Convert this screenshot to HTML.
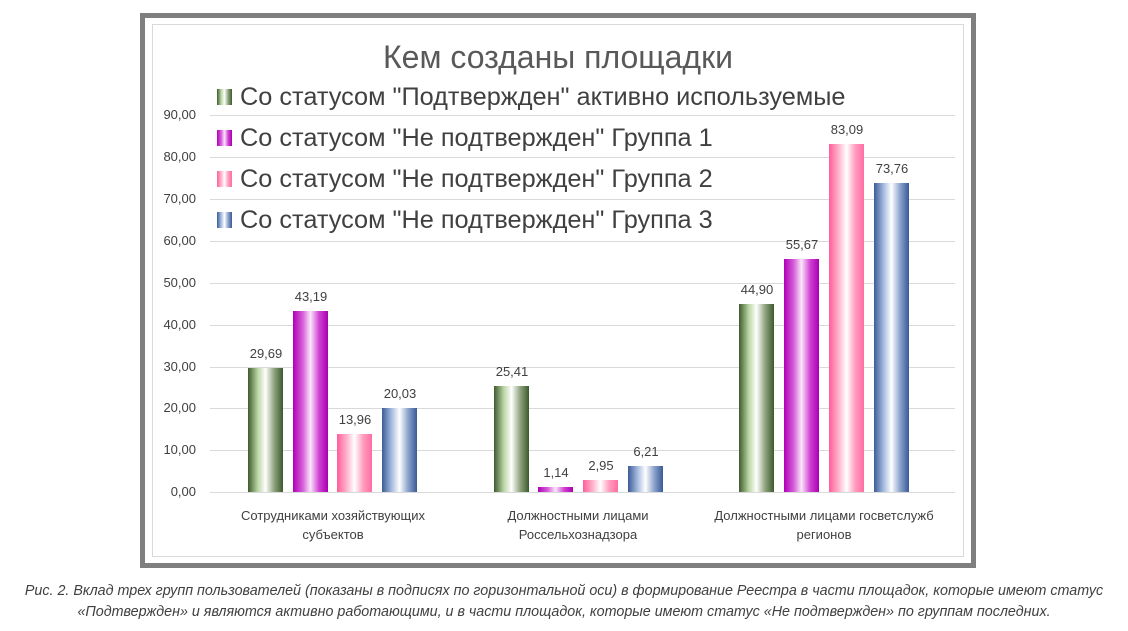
<!DOCTYPE html>
<html><head><meta charset="utf-8"><style>
body{margin:0;width:1128px;height:631px;background:#fff;position:relative;font-family:"Liberation Sans","DejaVu Sans",sans-serif;overflow:hidden}
.a{position:absolute}
.g{position:absolute;left:210px;width:745px;height:1px;background:#d9d9d9}
.yl{position:absolute;left:150px;width:46px;text-align:right;font-size:13px;color:#404040}
.b{position:absolute;width:35px}
.v{position:absolute;width:60px;text-align:center;font-size:13px;color:#404040}
.G{background:linear-gradient(90deg,#3f5a2e,#b9d6a3 28%,#fff 50%,#8ea37d 75%,#3c5a2c)}
.M{background:linear-gradient(90deg,#b000b8,#d65fd9 28%,#fbe6fb 50%,#d040d2 75%,#a800b0)}
.P{background:linear-gradient(90deg,#ff5d9a,#ffb3cc 28%,#fff 50%,#ff9cbd 75%,#ff6da2)}
.B{background:linear-gradient(90deg,#3c5c98,#a8bde0 28%,#fff 50%,#8aa2cc 75%,#3a5a96)}
.lg{position:absolute;left:217px;width:15px;height:16px}
.lt{position:absolute;left:240px;font-size:25.3px;color:#404040;line-height:28px}
.xl{position:absolute;text-align:center;font-size:13px;color:#404040;line-height:19px;width:260px}
</style></head><body>
<div class="a" style="left:140px;top:13px;width:826px;height:545px;border:5px solid #7f7f7f"></div>
<div class="a" style="left:152px;top:24px;width:810px;height:531px;border:1px solid #d9d9d9"></div>
<div class="a" style="left:150px;top:39px;width:816px;text-align:center;font-size:32px;color:#595959">Кем созданы площадки</div>

<div class="g" style="top:115px"></div><div class="g" style="top:157px"></div><div class="g" style="top:199px"></div>
<div class="g" style="top:241px"></div><div class="g" style="top:283px"></div><div class="g" style="top:325px"></div>
<div class="g" style="top:367px"></div><div class="g" style="top:408px"></div><div class="g" style="top:450px"></div>
<div class="g" style="top:492px"></div>

<div class="yl" style="top:107px">90,00</div><div class="yl" style="top:149px">80,00</div><div class="yl" style="top:191px">70,00</div>
<div class="yl" style="top:233px">60,00</div><div class="yl" style="top:275px">50,00</div><div class="yl" style="top:317px">40,00</div>
<div class="yl" style="top:359px">30,00</div><div class="yl" style="top:400px">20,00</div><div class="yl" style="top:442px">10,00</div>
<div class="yl" style="top:484px">0,00</div>

<div class="lg G" style="top:89px"></div><div class="lt" style="top:83px">Со статусом "Подтвержден" активно используемые</div>
<div class="lg M" style="top:130px"></div><div class="lt" style="top:124px">Со статусом "Не подтвержден" Группа 1</div>
<div class="lg P" style="top:171px"></div><div class="lt" style="top:165px">Со статусом "Не подтвержден" Группа 2</div>
<div class="lg B" style="top:212px"></div><div class="lt" style="top:206px">Со статусом "Не подтвержден" Группа 3</div>

<div class="b G" style="left:248px;top:368px;height:124px"></div><div class="v" style="left:236px;top:346px">29,69</div>
<div class="b M" style="left:293px;top:311px;height:181px"></div><div class="v" style="left:281px;top:289px">43,19</div>
<div class="b P" style="left:337px;top:434px;height:58px"></div><div class="v" style="left:325px;top:412px">13,96</div>
<div class="b B" style="left:382px;top:408px;height:84px"></div><div class="v" style="left:370px;top:386px">20,03</div>

<div class="b G" style="left:494px;top:386px;height:106px"></div><div class="v" style="left:482px;top:364px">25,41</div>
<div class="b M" style="left:538px;top:487px;height:5px"></div><div class="v" style="left:526px;top:465px">1,14</div>
<div class="b P" style="left:583px;top:480px;height:12px"></div><div class="v" style="left:571px;top:458px">2,95</div>
<div class="b B" style="left:628px;top:466px;height:26px"></div><div class="v" style="left:616px;top:444px">6,21</div>

<div class="b G" style="left:739px;top:304px;height:188px"></div><div class="v" style="left:727px;top:282px">44,90</div>
<div class="b M" style="left:784px;top:259px;height:233px"></div><div class="v" style="left:772px;top:237px">55,67</div>
<div class="b P" style="left:829px;top:144px;height:348px"></div><div class="v" style="left:817px;top:122px">83,09</div>
<div class="b B" style="left:874px;top:183px;height:309px"></div><div class="v" style="left:862px;top:161px">73,76</div>

<div class="xl" style="left:203px;top:506px">Сотрудниками хозяйствующих<br>субъектов</div>
<div class="xl" style="left:448px;top:506px">Должностными лицами<br>Россельхознадзора</div>
<div class="xl" style="left:694px;top:506px">Должностными лицами госветслужб<br>регионов</div>

<div class="a" style="left:0;top:581px;width:1128px;text-align:center;font-size:14.3px;font-style:italic;color:#404040;line-height:21px">Рис. 2. Вклад трех групп пользователей (показаны в подписях по горизонтальной оси) в формирование Реестра в части площадок, которые имеют статус<br>«Подтвержден» и являются активно работающими, и в части площадок, которые имеют статус «Не подтвержден» по группам последних.</div>
</body></html>
